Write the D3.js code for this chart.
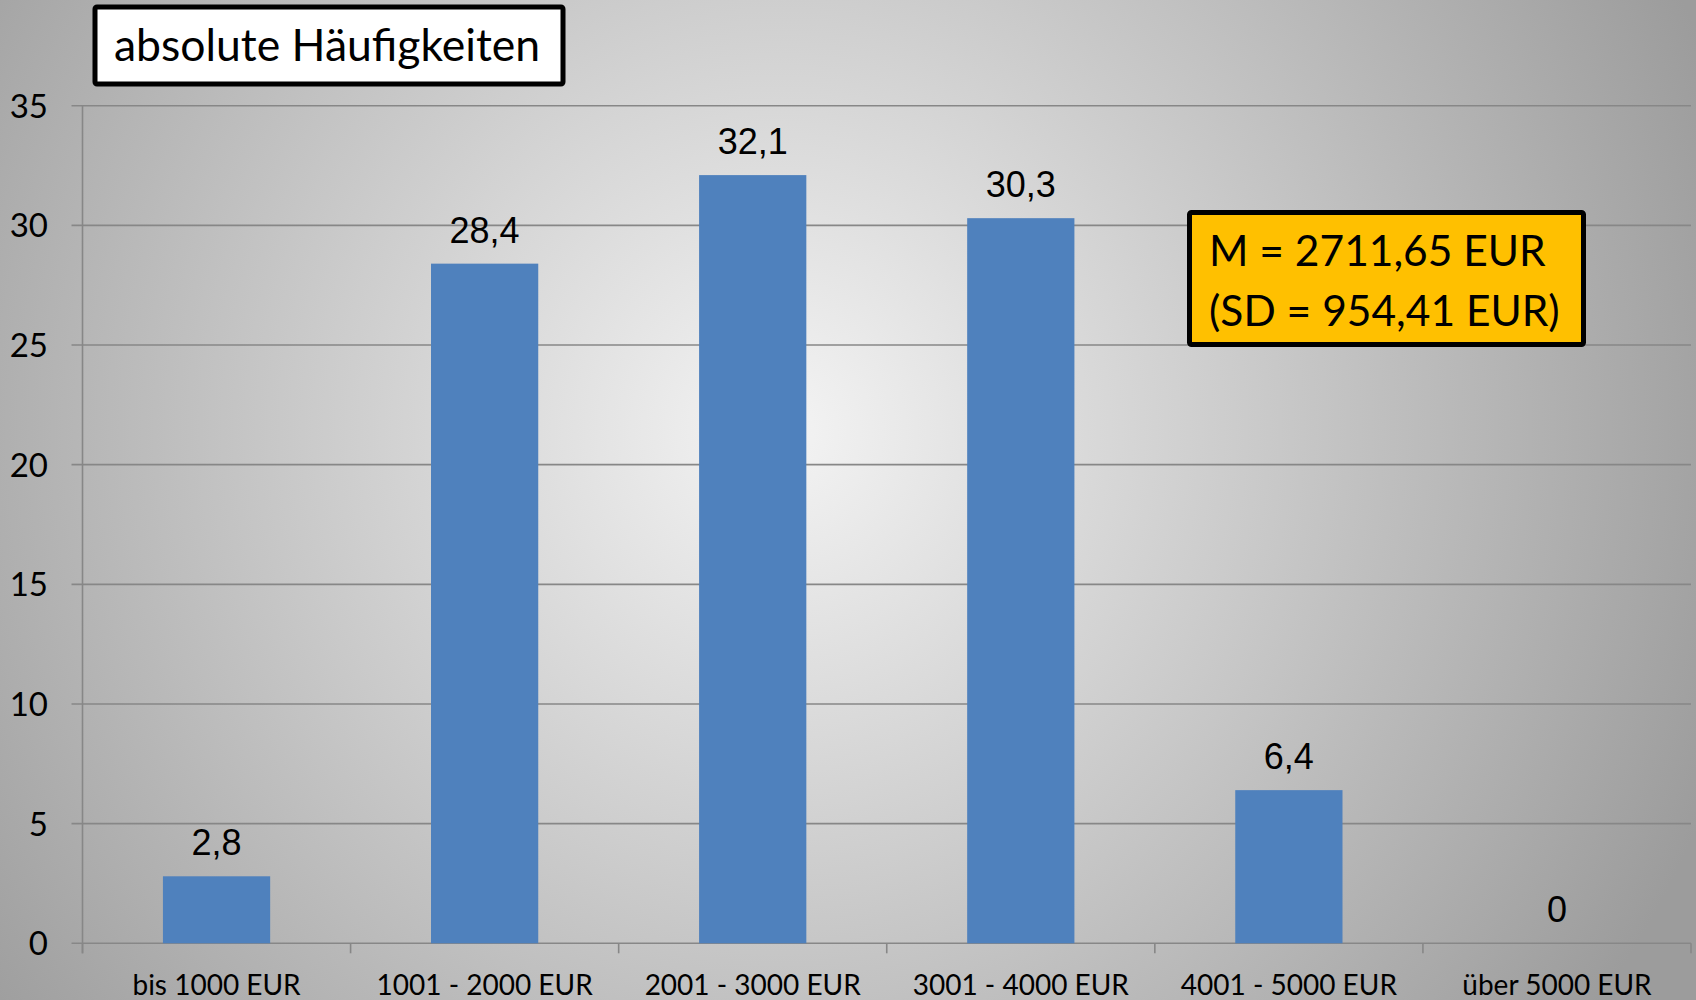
<!DOCTYPE html>
<html>
<head>
<meta charset="utf-8">
<script src="https://cdn.jsdelivr.net/npm/d3@7"></script>
<style>
  body { margin: 0; overflow: hidden; }
  svg { display: block; }
</style>
</head>
<body>
<div class="container"></div>
<script>
// chart data
const categories = ['bis 1000 EUR', '1001 - 2000 EUR', '2001 - 3000 EUR', '3001 - 4000 EUR', '4001 - 5000 EUR', 'über 5000 EUR'];
const values = [2.8, 28.4, 32.1, 30.3, 6.4, 0];
const yTicks = [0, 5, 10, 15, 20, 25, 30, 35];
const title = 'absolute Häufigkeiten';
const infoLines = ['M = 2711,65 EUR', '(SD = 954,41 EUR)'];

// svg dimensions
const width = 1696;
const height = 1000;
const plotLeft = 82.5, plotRight = 1691, plotTop = 105.7, plotBottom = 943.3;
const calibri = 'Lato, "Open Sans", sans-serif';

const svg = d3.select('.container')
    .append('svg')
    .attr('width', width)
    .attr('height', height);

// background gradient
const defs = svg.append('defs');
const grad = defs.append('radialGradient')
    .attr('id', 'bg')
    .attr('gradientUnits', 'userSpaceOnUse')
    .attr('cx', 780).attr('cy', 430).attr('r', 1000);
grad.append('stop').attr('offset', '0%').attr('stop-color', '#f4f4f4');
grad.append('stop').attr('offset', '100%').attr('stop-color', '#9c9c9c');

svg.append('rect')
    .attr('width', width)
    .attr('height', height)
    .attr('fill', 'url(#bg)');

// scales
const xScale = d3.scaleBand().domain(categories).range([plotLeft, plotRight]).paddingInner(0.6).paddingOuter(0.3);
const yScale = d3.scaleLinear().domain([0, 35]).range([plotBottom, plotTop]);

// gridlines
svg.append('g')
    .selectAll('line')
    .data(yTicks)
    .enter()
    .append('line')
    .attr('x1', plotLeft - 11)
    .attr('x2', plotRight)
    .attr('y1', d => yScale(d))
    .attr('y2', d => yScale(d))
    .attr('stroke', '#878787')
    .attr('stroke-width', 1.6);

// y axis line
svg.append('line')
    .attr('x1', plotLeft).attr('x2', plotLeft)
    .attr('y1', plotTop).attr('y2', plotBottom + 10)
    .attr('stroke', '#878787')
    .attr('stroke-width', 1.6);

// category ticks
const bandStep = (plotRight - plotLeft) / categories.length;
svg.append('g')
    .selectAll('line')
    .data(d3.range(categories.length + 1))
    .enter()
    .append('line')
    .attr('x1', i => plotLeft + i * bandStep)
    .attr('x2', i => plotLeft + i * bandStep)
    .attr('y1', plotBottom)
    .attr('y2', plotBottom + 10)
    .attr('stroke', '#878787')
    .attr('stroke-width', 1.6);

// y tick labels
svg.append('g')
    .selectAll('text')
    .data(yTicks)
    .enter()
    .append('text')
    .attr('x', 48)
    .attr('y', d => yScale(d) + 12)
    .attr('text-anchor', 'end')
    .attr('font-family', calibri)
    .attr('font-size', 33)
    .attr('fill', '#000')
    .text(d => d);

// x labels
svg.append('g')
    .selectAll('text')
    .data(categories)
    .enter()
    .append('text')
    .attr('x', d => xScale(d) + xScale.bandwidth() / 2)
    .attr('y', 995)
    .attr('text-anchor', 'middle')
    .attr('font-family', calibri)
    .attr('font-size', 28)
    .attr('fill', '#000')
    .text(d => d);

// bars
svg.append('g')
    .selectAll('rect')
    .data(values)
    .enter()
    .append('rect')
    .attr('x', (d, i) => xScale(categories[i]))
    .attr('width', xScale.bandwidth())
    .attr('y', d => yScale(d))
    .attr('height', d => plotBottom - yScale(d))
    .attr('fill', '#4f81bd');

// value labels
svg.append('g')
    .selectAll('text')
    .data(values)
    .enter()
    .append('text')
    .attr('x', (d, i) => xScale(categories[i]) + xScale.bandwidth() / 2)
    .attr('y', d => yScale(d) - 21)
    .attr('text-anchor', 'middle')
    .attr('font-family', '"Liberation Sans", Arial, sans-serif')
    .attr('font-size', 36)
    .attr('fill', '#000')
    .text(d => String(d).replace('.', ','));

// title box
svg.append('rect')
    .attr('x', 95).attr('y', 7)
    .attr('width', 468).attr('height', 77)
    .attr('rx', 2)
    .attr('fill', '#fff')
    .attr('stroke', '#000')
    .attr('stroke-width', 5);
svg.append('text')
    .attr('x', 114).attr('y', 61)
    .attr('font-family', calibri)
    .attr('font-size', 44.5)
    .attr('fill', '#000')
    .text(title);

// info box
svg.append('rect')
    .attr('x', 1189.5).attr('y', 212.5)
    .attr('width', 394).attr('height', 132)
    .attr('rx', 2)
    .attr('fill', '#ffc000')
    .attr('stroke', '#000')
    .attr('stroke-width', 5);
svg.append('g')
    .selectAll('text')
    .data(infoLines)
    .enter()
    .append('text')
    .attr('x', 1209)
    .attr('y', (d, i) => 266 + i * 60)
    .attr('font-family', calibri)
    .attr('font-size', 42.5)
    .attr('fill', '#000')
    .text(d => d);
</script>
</body>
</html>
